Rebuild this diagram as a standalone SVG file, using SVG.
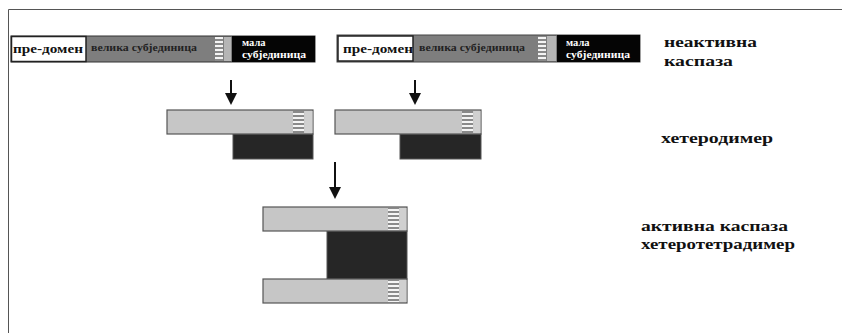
<svg xmlns="http://www.w3.org/2000/svg" width="842" height="333" viewBox="0 0 842 333">
<defs>
<pattern id="str" x="0" y="0" width="4" height="4" patternUnits="userSpaceOnUse">
<rect width="4" height="4" fill="#8a8a8a"/>
<rect y="1" width="4" height="2" fill="#f4f4f4"/>
</pattern>
</defs>
<style>
text{font-family:"Liberation Serif","DejaVu Serif","Times New Roman",serif;font-weight:bold}
.lbl{font-size:15px;fill:#111}
.pd{font-size:12.5px;fill:#111}
.big{font-size:10px;fill:#222}
.sm{font-size:10.5px;fill:#fff}
.lg{fill:#c6c6c6;stroke:#555;stroke-width:1.2}
.dk{fill:#262626;stroke:#555;stroke-width:1}
.lt{fill:#d0d0d0}
.st{fill:url(#str)}
.arr{stroke:#111;stroke-width:2;fill:none}
.ahd{fill:#111}
</style>
<rect width="842" height="333" fill="#fff"/>
<path d="M8.5 333V9.5H842" fill="none" stroke="#555" stroke-width="1"/>

<g id="inactive1">
<rect x="11" y="36" width="304" height="26" fill="#7e7e7e" stroke="#333" stroke-width="1"/>
<rect x="215" y="37" width="8" height="24" class="st"/>
<rect x="224" y="37" width="7" height="24" fill="#b5b5b5"/>
<rect x="232" y="36" width="83" height="26" fill="#050505"/>
<rect x="11.5" y="36.5" width="74.5" height="25" fill="#fff" stroke="#222" stroke-width="1.5"/>
<text x="13" y="52.5" class="pd" textLength="70" lengthAdjust="spacingAndGlyphs">пре-домен</text>
<text x="91" y="51" class="big" textLength="106" lengthAdjust="spacingAndGlyphs">велика субјединица</text>
<text x="242" y="46" class="sm">мала</text>
<text x="242" y="57.5" class="sm" textLength="64" lengthAdjust="spacingAndGlyphs">субјединица</text>
</g>

<g id="inactive2">
<rect x="337" y="35" width="303" height="27" fill="#7e7e7e" stroke="#444" stroke-width="1"/>
<rect x="538" y="36" width="8" height="25" class="st"/>
<rect x="547" y="36" width="9" height="25" fill="#b5b5b5"/>
<rect x="557" y="35" width="83" height="27" fill="#050505"/>
<rect x="338" y="36" width="75" height="25" fill="#fff" stroke="#222" stroke-width="1.5"/>
<text x="343" y="52.5" class="pd" textLength="70" lengthAdjust="spacingAndGlyphs">пре-домен</text>
<text x="419" y="51" class="big" textLength="106" lengthAdjust="spacingAndGlyphs">велика субјединица</text>
<text x="566" y="45.5" class="sm">мала</text>
<text x="566" y="57.5" class="sm" textLength="64" lengthAdjust="spacingAndGlyphs">субјединица</text>
</g>

<g id="label-inactive">
<text x="664" y="47" class="lbl" textLength="93" lengthAdjust="spacingAndGlyphs">неактивна</text>
<text x="664" y="66" class="lbl" textLength="69" lengthAdjust="spacingAndGlyphs">каспаза</text>
</g>

<g id="heterodimer1">
<rect x="233" y="134" width="80" height="25" class="dk"/>
<rect x="167" y="110" width="146" height="24" class="lg"/>
<rect x="293" y="111" width="11" height="22" class="st"/>
<rect x="304.5" y="111" width="8" height="22" class="lt"/>
</g>

<g id="heterodimer2">
<rect x="400" y="134" width="81" height="25" class="dk"/>
<rect x="335" y="110" width="146" height="24" class="lg"/>
<rect x="462" y="111" width="11" height="22" class="st"/>
<rect x="473.5" y="111" width="7" height="22" class="lt"/>
</g>

<g id="label-heterodimer">
<text x="661" y="143" class="lbl" textLength="112" lengthAdjust="spacingAndGlyphs">хетеродимер</text>
</g>

<g id="tetramer">
<rect x="327" y="231" width="80" height="48" class="dk"/>
<rect x="263" y="207" width="144" height="24" class="lg"/>
<rect x="388" y="208" width="11" height="22" class="st"/>
<rect x="399.5" y="208" width="7" height="22" class="lt"/>
<rect x="263" y="279" width="144" height="24" class="lg"/>
<rect x="388" y="280" width="11" height="22" class="st"/>
<rect x="399.5" y="280" width="7" height="22" class="lt"/>
</g>

<g id="label-tetramer">
<text x="641" y="231" class="lbl" textLength="147" lengthAdjust="spacingAndGlyphs">активна каспаза</text>
<text x="641" y="249" class="lbl" textLength="154" lengthAdjust="spacingAndGlyphs">хетеротетрадимер</text>
</g>

<g id="connectors">
<line x1="231" y1="80" x2="231" y2="95" class="arr"/>
<polygon points="225,93 237,93 231,105" class="ahd"/>
<line x1="415" y1="80" x2="415" y2="95" class="arr"/>
<polygon points="409,93 421,93 415,105" class="ahd"/>
<line x1="335" y1="162" x2="335" y2="189" class="arr"/>
<polygon points="329,187 341,187 335,199" class="ahd"/>
</g>
</svg>
